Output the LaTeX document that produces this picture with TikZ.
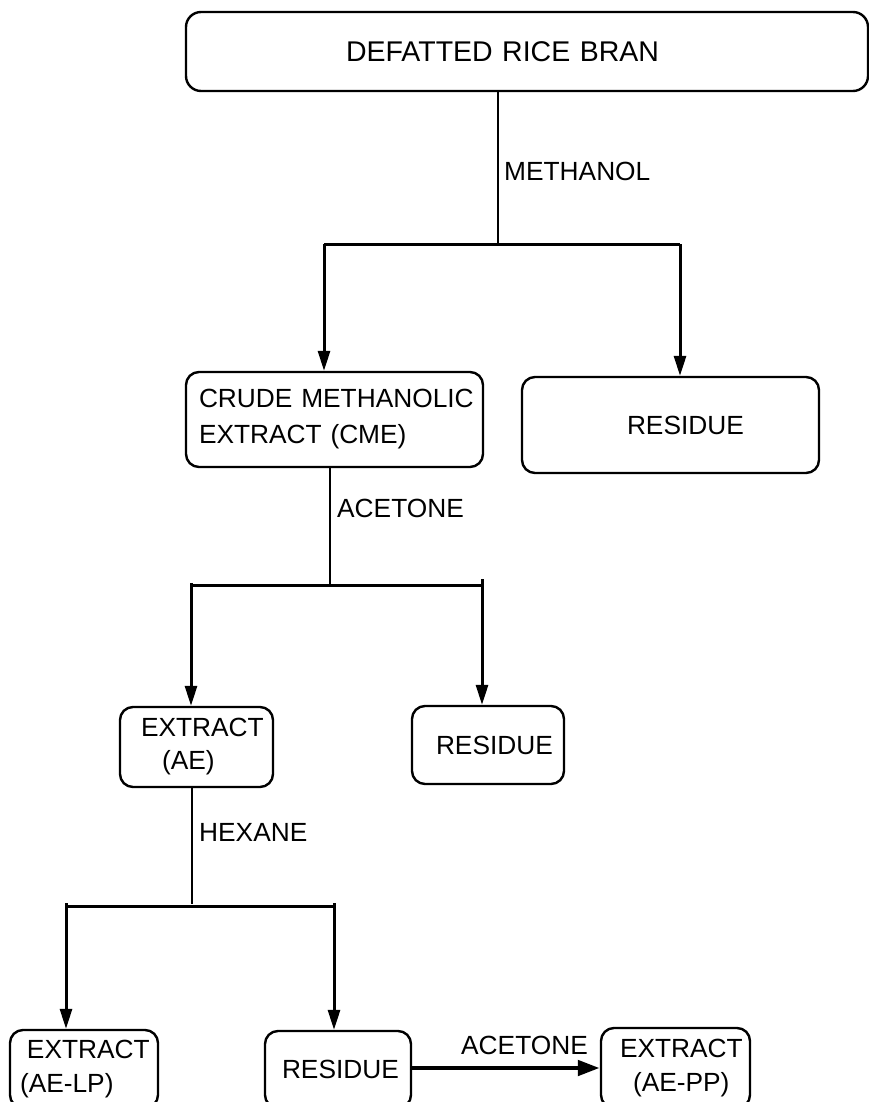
\documentclass[tikz,border=0pt]{standalone}
\usepackage{fontspec}
\setmainfont{Liberation Sans}
\usetikzlibrary{arrows.meta}
\begin{document}
\begin{tikzpicture}[x=1pt,y=-1pt,
  box/.style={draw, line width=2.4pt, rounded corners=13pt, inner sep=0pt, align=left,
    font=\fontsize{26.3}{34}\selectfont},
  stem/.style={line width=2pt},
  crossbar/.style={line width=3pt},
  arr/.style={line width=3pt, -{Triangle[length=20pt,width=12pt]}},
  bigarr/.style={line width=4.7pt, -{Triangle[length=22pt,width=15pt]}},
  lbl/.style={anchor=west, inner sep=0pt, font=\fontsize{26.3}{34}\selectfont}]
\useasboundingbox (0,0) rectangle (869,1102);

% boxes
\node[box, rounded corners=15pt, text width=682pt, minimum height=79pt, font=\fontsize{28.5}{34}\selectfont] (top) at (527,51.5) {\hspace*{160pt}DEFATTED RICE BRAN};
\node[box, text width=297pt, minimum height=95pt, font=\fontsize{26.3}{36}\selectfont] (cme) at (334.5,419.5) {\hspace*{13pt}CRUDE METHANOLIC\\\hspace*{13pt}EXTRACT (CME)};
\node[box, text width=297pt, minimum height=96pt] (res1) at (670.5,425) {\hspace*{105pt}RESIDUE};
\node[box, text width=153pt, minimum height=80pt, font=\fontsize{26.3}{33}\selectfont] (ae) at (196.5,747) {\hspace*{21pt}EXTRACT\\\hspace*{42pt}(AE)};
\node[box, text width=152pt, minimum height=78pt] (res2) at (488,745) {\hspace*{24pt}RESIDUE};
\node[box, text width=148pt, minimum height=78pt] (aelp) at (84,1069) {\hspace*{17pt}EXTRACT\\\hspace*{10pt}(AE-LP)};
\node[box, text width=146pt, minimum height=77pt] (res3) at (338,1069.5) {\hspace*{17pt}RESIDUE};
\node[box, text width=149pt, minimum height=80pt] (aepp) at (675.5,1068) {\hspace*{19pt}EXTRACT\\\hspace*{32pt}(AE-PP)};

% stage 1
\coordinate (j1) at (498,244);
\coordinate (j1l) at (324,244);
\coordinate (j1r) at (680,244);
\draw[stem] (top.south -| j1) -- (j1);
\draw[crossbar] (j1l) -- (j1r);
\draw[arr] (j1l) -- (j1l |- cme.north);
\draw[arr] (j1r) -- (j1r |- res1.north);
\node[lbl] (methanol) at (504,171) {METHANOL};

% stage 2
\coordinate (j2) at (330,585);
\coordinate (j2l) at (191,585);
\coordinate (j2r) at (482,585);
\draw[stem] (cme.south -| j2) -- (j2);
\draw[crossbar] (j2l) -- (j2r);
\draw[arr] ([yshift=2pt]j2l) -- (j2l |- ae.north);
\draw[arr] ([yshift=6pt]j2r) -- (j2r |- res2.north);
\node[lbl] (acetone1) at (337,508) {ACETONE};

% stage 3
\coordinate (j3) at (192,904);
\coordinate (j3l) at (66,906);
\coordinate (j3r) at (334,906);
\draw[stem] (ae.south -| j3) -- (j3);
\draw[crossbar] (j3l) -- (j3r);
\draw[arr] ([yshift=3pt]j3l) -- (j3l |- aelp.north);
\draw[arr] ([yshift=3pt]j3r) -- (j3r |- res3.north);
\node[lbl] (hexane) at (199,832) {HEXANE};

% final step
\draw[bigarr] (res3.east |- aepp.west) -- (aepp.west);
\node[lbl] (acetone2) at (461,1045) {ACETONE};
\end{tikzpicture}
\end{document}
